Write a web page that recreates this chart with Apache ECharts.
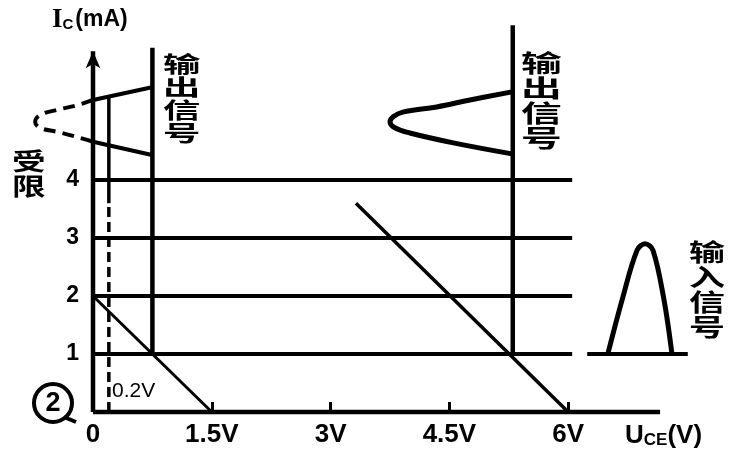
<!DOCTYPE html>
<html><head><meta charset="utf-8">
<script src="https://cdn.jsdelivr.net/npm/echarts@6/dist/echarts.min.js"></script>
<style>html,body{margin:0;padding:0;background:#fff}#c{width:739px;height:471px}</style>
</head><body><div id="c"></div>
<script>
// ---- data ----
const xTicks = [0, 1.5, 3, 4.5, 6];
const xTickLabels = ['0', '1.5V', '3V', '4.5V', '6V'];
const yTicks = [1, 2, 3, 4];
const yTickLabels = ['1', '2', '3', '4'];
const xAxisEnd = 7.16;            // V, end of drawn Uce axis
const yAxisEnd = 6.22;            // mA, Ic arrow position
const curveCurrents = [1, 2, 3, 4];   // mA, output characteristic lines
const curveStart = 0;
const curveEnd = 6.05;            // V
const loadLine1 = [[0, 2], [1.5, 0]];
const loadLine2 = [[3.32, 3.6], [6, 0]];
const satVoltage = 0.2;           // dashed line at 0.2V
const satSolidTop = 5.43, satSolidBottom = 3.6;
const swingLeft = [[0.75, 1], [0.75, 6.28]];
const swingRight = [[5.3, 1], [5.3, 6.67]];
const outLeftSolidTop = [[0.745, 5.60], [0, 5.38]];
const outLeftDashed = [[0, 5.38], [-0.2, 5.29], [-0.45, 5.21], [-0.67, 5.12], [-0.73, 5.0], [-0.67, 4.90], [-0.45, 4.83], [-0.2, 4.74], [0, 4.66]];
const outLeftSolidBottom = [[0, 4.66], [0.745, 4.43]];
const outRight = [[5.29, 5.52], [4.76, 5.38], [4.34, 5.26], [3.91, 5.17], [3.79, 5.09], [3.75, 5.0], [3.81, 4.90], [4.0, 4.81], [4.55, 4.64], [5.29, 4.45]];
const inBase = [[6.24, 1], [7.51, 1]];
const inWave = [[6.50, 1.0], [6.68, 1.93], [6.87, 2.79], [6.97, 2.90], [7.07, 2.79], [7.21, 1.93], [7.31, 1.0]];

const BLACK = '#000';
const X_MIN = -0.9, X_MAX = 7.6, Y_MAX = 6.8;
const GRID_LEFT = 21.72, GRID_RIGHT = 44.08;
function line(data, width, opts) {
  return Object.assign({
    type: 'line', data: data, showSymbol: false, symbol: 'none', clip: false, silent: true,
    animation: false, lineStyle: { color: BLACK, width: width }
  }, opts || {});
}
const series = [];
// axes drawn as lines
series.push(line([[0, 0], [xAxisEnd, 0]], 4.5));
series.push(line([[0, 0], { value: [0, yAxisEnd], symbol: 'arrow', symbolSize: [11, 17] }], 4.5,
  { showSymbol: true, symbol: 'none', itemStyle: { color: BLACK } }));
curveCurrents.forEach(c => series.push(line([[curveStart, c], [curveEnd, c]], 4)));
series.push(line(loadLine1, 3));
series.push(line(loadLine2, 3.5));
series.push(line([[satVoltage, satSolidBottom], [satVoltage, satSolidTop]], 3.5));
series.push(line([[satVoltage, 0], [satVoltage, satSolidBottom]], 3.5, { lineStyle: { color: BLACK, width: 3.5, type: [10, 5] } }));
series.push(line(swingLeft, 4.5));
series.push(line(swingRight, 4.5));
series.push(line(outLeftSolidTop, 4));
series.push(line(outLeftDashed, 4, { smooth: 0.4, lineStyle: { color: BLACK, width: 4, type: [12, 7] } }));
series.push(line(outLeftSolidBottom, 4));
series.push(line(outRight, 5, { smooth: 0.4 }));
series.push(line(inBase, 4));
series.push(line(inWave, 5, { smooth: 0.35 }));

const chart = echarts.init(document.getElementById('c'), null, { renderer: 'canvas' });
const plotW = 739 - GRID_LEFT - GRID_RIGHT;
const zeroOffset = (0 - X_MIN) / (X_MAX - X_MIN) * plotW;   // px from grid left to x=0
chart.setOption({
  backgroundColor: '#fff',
  animation: false,
  grid: { left: GRID_LEFT, right: GRID_RIGHT, top: 17.6, bottom: 59, containLabel: false, outerBoundsMode: 'none' },
  xAxis: {
    type: 'value', min: X_MIN, max: X_MAX,
    splitLine: { show: false },
    axisLine: { show: false, onZero: false },
    axisTick: { show: true, inside: true, length: 10, customValues: xTicks.slice(1), lineStyle: { color: BLACK, width: 3 } },
    axisLabel: {
      customValues: xTicks, margin: 10, color: BLACK,
      fontFamily: 'Liberation Sans', fontWeight: 'bold', fontSize: 26,
      formatter: v => { const i = xTicks.indexOf(v); return i >= 0 ? xTickLabels[i] : ''; }
    }
  },
  yAxis: {
    type: 'value', min: 0, max: Y_MAX, offset: -zeroOffset,
    splitLine: { show: false },
    axisLine: { show: false, onZero: false },
    axisTick: { show: false },
    axisLabel: {
      customValues: yTicks, margin: 14, color: BLACK,
      fontFamily: 'Liberation Sans', fontWeight: 'bold', fontSize: 23,
      formatter: v => { const i = yTicks.indexOf(v); return i >= 0 ? yTickLabels[i] : ''; }
    }
  },
  series: series,
  graphic: [
    { type: 'text', x: 52, y: 20, style: { text: '{i|I}{s|C}{n|(mA)}', verticalAlign: 'middle', rich: {
      i: { fontFamily: 'Liberation Serif', fontWeight: 'bold', fontSize: 27, fill: BLACK },
      s: { fontFamily: 'Liberation Sans', fontWeight: 'bold', fontSize: 15, fill: BLACK, padding: [10, 2, 0, 0] },
      n: { fontFamily: 'Liberation Sans', fontWeight: 'bold', fontSize: 23, fill: BLACK } } } },
    { type: 'text', x: 625, y: 436, style: { text: '{u|U}{s|CE}{n|(V)}', verticalAlign: 'middle', rich: {
      u: { fontFamily: 'Liberation Sans', fontWeight: 'bold', fontSize: 26, fill: BLACK },
      s: { fontFamily: 'Liberation Sans', fontWeight: 'bold', fontSize: 17, fill: BLACK, padding: [8, 0, 0, 0] },
      n: { fontFamily: 'Liberation Sans', fontWeight: 'bold', fontSize: 26, fill: BLACK } } } },
    { type: 'text', x: 163, y: 52, scaleX: 1.7, style: { text: '输\n出\n信\n号', font: 'bold 22px "Noto Sans CJK SC"', lineHeight: 23, fill: BLACK } },
    { type: 'text', x: 521, y: 50, scaleX: 1.7, style: { text: '输\n出\n信\n号', font: 'bold 24px "Noto Sans CJK SC"', lineHeight: 25, fill: BLACK } },
    { type: 'text', x: 689, y: 239, scaleX: 1.5, style: { text: '输\n入\n信\n号', font: 'bold 24px "Noto Sans CJK SC"', lineHeight: 25, fill: BLACK } },
    { type: 'text', x: 12, y: 148, scaleX: 1.4, style: { text: '受\n限', font: 'bold 24px "Noto Sans CJK SC"', lineHeight: 25, fill: BLACK } },
    { type: 'text', x: 112, y: 391, style: { text: '0.2V', font: '21px "Liberation Sans"', fill: BLACK, verticalAlign: 'middle' } },
    { type: 'circle', shape: { cx: 53, cy: 403, r: 19 }, style: { fill: 'none', stroke: BLACK, lineWidth: 4 } },
    { type: 'line', shape: { x1: 64, y1: 417, x2: 76, y2: 422 }, style: { stroke: BLACK, lineWidth: 4 } },
    { type: 'text', x: 53, y: 404, style: { text: '2', font: 'bold 27px "Liberation Sans"', fill: BLACK, align: 'center', verticalAlign: 'middle' } }
  ]
});
</script></body></html>
